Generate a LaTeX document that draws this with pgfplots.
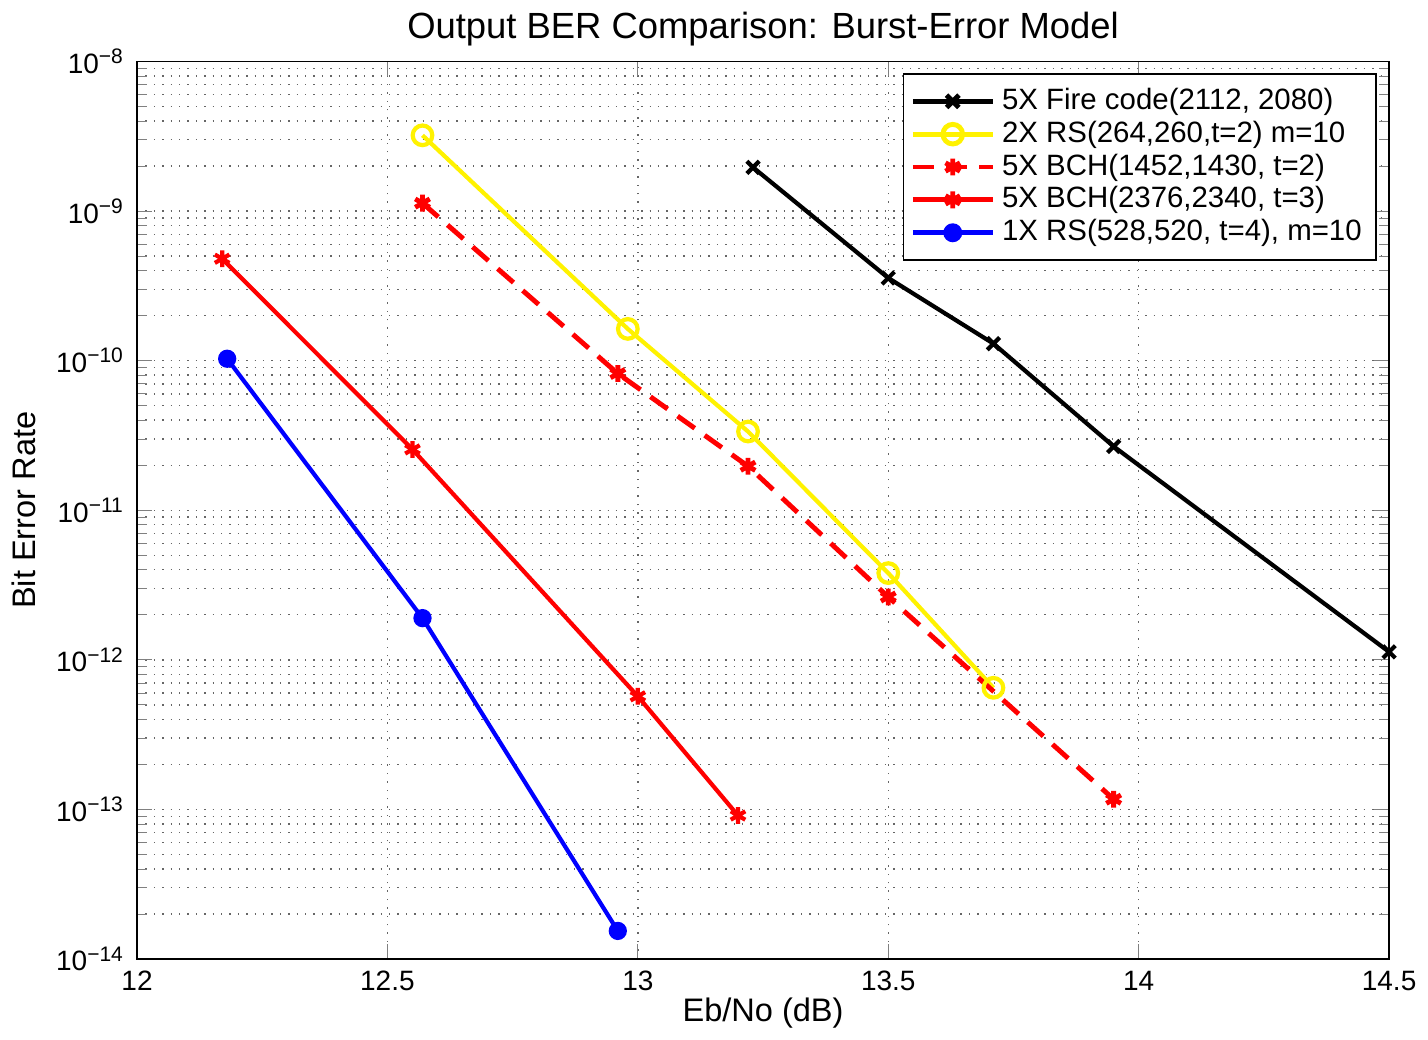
\documentclass[border=0pt]{standalone}
\usepackage{fontspec}
\setmainfont{Liberation Sans}
\usepackage{pgfplots}
\pgfplotsset{compat=1.18}

\begin{document}
\begin{tikzpicture}
\begin{axis}[
  scale only axis, width=12.57cm, height=9.01cm,
  ymode=log, xmin=12, xmax=14.5, ymin=1e-14, ymax=1e-8,
  xtick={12,12.5,...,14.5},
  xticklabels={12,12.5,13,13.5,14,14.5},
  ytick={1e-14,1e-13,1e-12,1e-11,1e-10,1e-9,1e-8},
  yticklabels={10\textsuperscript{−14},10\textsuperscript{−13},10\textsuperscript{−12},10\textsuperscript{−11},10\textsuperscript{−10},10\textsuperscript{−9},10\textsuperscript{−8}},
  tick align=inside, tick pos=both,
  grid=both, major grid style={black!60, dotted, line width=0.4pt},
  minor grid style={black!60, dotted, line width=0.4pt},
  axis line style={black, line width=0.5pt},
  every tick label/.append style={font=\fontsize{8}{9}\selectfont},
  /pgf/number format/assume math mode=true,
  title={Output BER Comparison: Burst-Error Model},
  title style={font=\fontsize{10.4}{11}\selectfont, yshift=-5pt},
  xlabel={Eb/No (dB)}, ylabel={Bit Error Rate},
  label style={font=\fontsize{9.3}{10}\selectfont},
  xlabel style={yshift=5pt}, ylabel style={yshift=-1pt},
  legend cell align=left,
  legend style={at={(rel axis cs:0.99,0.987)}, anchor=north east,
    font=\fontsize{8.4}{9}\selectfont, draw=black, line width=0.5pt,
    row sep=-2.2pt, inner sep=2pt},
  legend image code/.code={
    \draw[mark repeat=2, mark phase=2, #1]
      plot coordinates {(0cm,0cm) (0.4cm,0cm) (0.8cm,0cm)};},
  legend image post style={line width=1.4pt},
]
\addplot[black, line width=1.2pt, mark=x, mark size=2.5pt, mark options={solid}]
  coordinates {(13.23,1.96e-9) (13.50,3.57e-10) (13.71,1.30e-10) (13.95,2.67e-11) (14.5,1.13e-12)};
\addlegendentry{5X Fire code(2112, 2080)}
\addplot[yellow, line width=1.2pt, mark=o, mark size=2.8pt, mark options={solid}]
  coordinates {(12.57,3.21e-9) (12.98,1.63e-10) (13.22,3.36e-11) (13.50,3.8e-12) (13.71,6.5e-13)};
\addlegendentry{2X RS(264,260,t=2) m=10}
\addplot[red, line width=1.4pt, dash pattern=on 6pt off 3.5pt, mark=asterisk, mark size=2.4pt, mark options={solid}]
  coordinates {(12.57,1.13e-9) (12.96,8.2e-11) (13.22,1.97e-11) (13.50,2.63e-12) (13.95,1.17e-13)};
\addlegendentry{5X BCH(1452,1430, t=2)}
\addplot[red, line width=1.2pt, mark=asterisk, mark size=2.4pt, mark options={solid}]
  coordinates {(12.17,4.8e-10) (12.55,2.55e-11) (13.0,5.7e-13) (13.2,9.1e-14)};
\addlegendentry{5X BCH(2376,2340, t=3)}
\addplot[blue, line width=1.2pt, mark=*, mark size=2pt, mark options={solid}]
  coordinates {(12.18,1.03e-10) (12.57,1.9e-12) (12.96,1.54e-14)};
\addlegendentry{1X RS(528,520, t=4), m=10}
\end{axis}
\end{tikzpicture}
\end{document}
